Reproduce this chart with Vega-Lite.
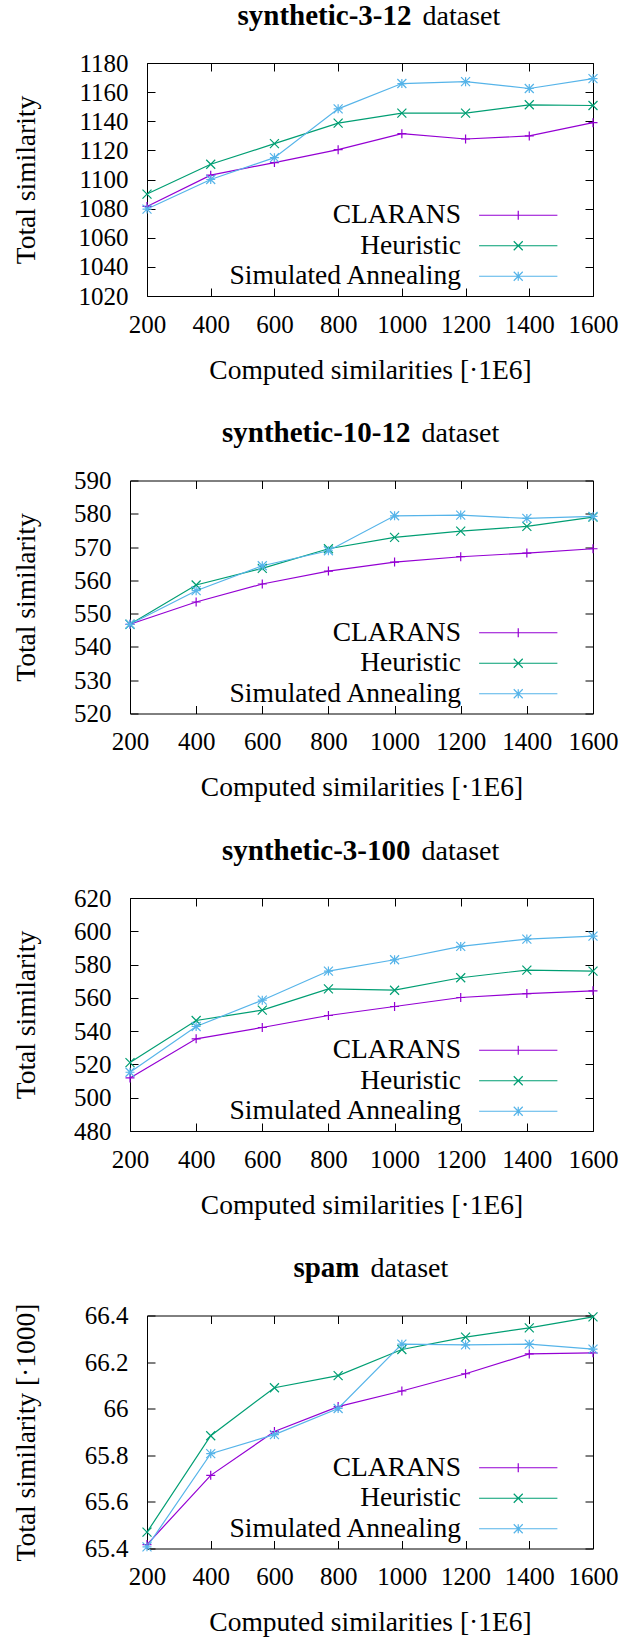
{
  "$schema": "https://vega.github.io/schema/vega-lite/v6.json",
  "padding": {"top": 0, "left": 0, "right": 0, "bottom": 0},
  "autosize": {"type": "pad"},
  "config": {
    "font": "Liberation Serif",
    "view": {"stroke": "black", "strokeWidth": 1},
    "axis": {
      "labelFont": "Liberation Serif", "titleFont": "Liberation Serif",
      "labelColor": "black", "titleColor": "black", "tickColor": "black",
      "labelFontSize": 25, "titleFontSize": 27.5, "titleFontWeight": "normal",
      "grid": false, "domain": false, "labelFlush": false, "labelOverlap": false, "tickWidth": 1
    },
    "legend": {"labelFont": "Liberation Serif", "labelColor": "black", "labelFontSize": 27.5}
  },
  "resolve": {"scale": {"color": "independent"}, "legend": {"color": "independent"}},
  "datasets": {
    "p1": [
      {"x": 200, "y": 1081.5, "series": "CLARANS"}, {"x": 400, "y": 1103, "series": "CLARANS"}, {"x": 600, "y": 1111.6, "series": "CLARANS"}, {"x": 800, "y": 1120.5, "series": "CLARANS"}, {"x": 1000, "y": 1131.5, "series": "CLARANS"}, {"x": 1200, "y": 1127.8, "series": "CLARANS"}, {"x": 1400, "y": 1129.9, "series": "CLARANS"}, {"x": 1600, "y": 1139, "series": "CLARANS"},
      {"x": 200, "y": 1090, "series": "Heuristic"}, {"x": 400, "y": 1110.5, "series": "Heuristic"}, {"x": 600, "y": 1124.6, "series": "Heuristic"}, {"x": 800, "y": 1138.7, "series": "Heuristic"}, {"x": 1000, "y": 1145.6, "series": "Heuristic"}, {"x": 1200, "y": 1145.6, "series": "Heuristic"}, {"x": 1400, "y": 1151.3, "series": "Heuristic"}, {"x": 1600, "y": 1150.8, "series": "Heuristic"},
      {"x": 200, "y": 1079.7, "series": "Simulated Annealing"}, {"x": 400, "y": 1100, "series": "Simulated Annealing"}, {"x": 600, "y": 1115, "series": "Simulated Annealing"}, {"x": 800, "y": 1148.5, "series": "Simulated Annealing"}, {"x": 1000, "y": 1165.9, "series": "Simulated Annealing"}, {"x": 1200, "y": 1167.2, "series": "Simulated Annealing"}, {"x": 1400, "y": 1162.5, "series": "Simulated Annealing"}, {"x": 1600, "y": 1169.3, "series": "Simulated Annealing"}
    ],
    "p2": [
      {"x": 200, "y": 546.8, "series": "CLARANS"}, {"x": 400, "y": 553.5, "series": "CLARANS"}, {"x": 600, "y": 558.9, "series": "CLARANS"}, {"x": 800, "y": 562.8, "series": "CLARANS"}, {"x": 1000, "y": 565.5, "series": "CLARANS"}, {"x": 1200, "y": 567.1, "series": "CLARANS"}, {"x": 1400, "y": 568.2, "series": "CLARANS"}, {"x": 1600, "y": 569.5, "series": "CLARANS"},
      {"x": 200, "y": 546.8, "series": "Heuristic"}, {"x": 400, "y": 558.6, "series": "Heuristic"}, {"x": 600, "y": 563.6, "series": "Heuristic"}, {"x": 800, "y": 569.5, "series": "Heuristic"}, {"x": 1000, "y": 572.9, "series": "Heuristic"}, {"x": 1200, "y": 574.8, "series": "Heuristic"}, {"x": 1400, "y": 576.2, "series": "Heuristic"}, {"x": 1600, "y": 579, "series": "Heuristic"},
      {"x": 200, "y": 546.8, "series": "Simulated Annealing"}, {"x": 400, "y": 556.9, "series": "Simulated Annealing"}, {"x": 600, "y": 564.4, "series": "Simulated Annealing"}, {"x": 800, "y": 568.9, "series": "Simulated Annealing"}, {"x": 1000, "y": 579.4, "series": "Simulated Annealing"}, {"x": 1200, "y": 579.6, "series": "Simulated Annealing"}, {"x": 1400, "y": 578.6, "series": "Simulated Annealing"}, {"x": 1600, "y": 579.2, "series": "Simulated Annealing"}
    ],
    "p3": [
      {"x": 200, "y": 511.9, "series": "CLARANS"}, {"x": 400, "y": 535.4, "series": "CLARANS"}, {"x": 600, "y": 542.2, "series": "CLARANS"}, {"x": 800, "y": 549.4, "series": "CLARANS"}, {"x": 1000, "y": 554.8, "series": "CLARANS"}, {"x": 1200, "y": 560.2, "series": "CLARANS"}, {"x": 1400, "y": 562.6, "series": "CLARANS"}, {"x": 1600, "y": 564.2, "series": "CLARANS"},
      {"x": 200, "y": 521.1, "series": "Heuristic"}, {"x": 400, "y": 546.4, "series": "Heuristic"}, {"x": 600, "y": 552.6, "series": "Heuristic"}, {"x": 800, "y": 565.4, "series": "Heuristic"}, {"x": 1000, "y": 564.6, "series": "Heuristic"}, {"x": 1200, "y": 572.1, "series": "Heuristic"}, {"x": 1400, "y": 576.7, "series": "Heuristic"}, {"x": 1600, "y": 576.1, "series": "Heuristic"},
      {"x": 200, "y": 515.3, "series": "Simulated Annealing"}, {"x": 400, "y": 542.8, "series": "Simulated Annealing"}, {"x": 600, "y": 558.6, "series": "Simulated Annealing"}, {"x": 800, "y": 576.1, "series": "Simulated Annealing"}, {"x": 1000, "y": 582.9, "series": "Simulated Annealing"}, {"x": 1200, "y": 590.9, "series": "Simulated Annealing"}, {"x": 1400, "y": 595.3, "series": "Simulated Annealing"}, {"x": 1600, "y": 597.1, "series": "Simulated Annealing"}
    ],
    "p4": [
      {"x": 200, "y": 65.417, "series": "CLARANS"}, {"x": 400, "y": 65.714, "series": "CLARANS"}, {"x": 600, "y": 65.902, "series": "CLARANS"}, {"x": 800, "y": 66.009, "series": "CLARANS"}, {"x": 1000, "y": 66.076, "series": "CLARANS"}, {"x": 1200, "y": 66.15, "series": "CLARANS"}, {"x": 1400, "y": 66.235, "series": "CLARANS"}, {"x": 1600, "y": 66.24, "series": "CLARANS"},
      {"x": 200, "y": 65.47, "series": "Heuristic"}, {"x": 400, "y": 65.884, "series": "Heuristic"}, {"x": 600, "y": 66.09, "series": "Heuristic"}, {"x": 800, "y": 66.142, "series": "Heuristic"}, {"x": 1000, "y": 66.254, "series": "Heuristic"}, {"x": 1200, "y": 66.307, "series": "Heuristic"}, {"x": 1400, "y": 66.347, "series": "Heuristic"}, {"x": 1600, "y": 66.394, "series": "Heuristic"},
      {"x": 200, "y": 65.407, "series": "Simulated Annealing"}, {"x": 400, "y": 65.807, "series": "Simulated Annealing"}, {"x": 600, "y": 65.889, "series": "Simulated Annealing"}, {"x": 800, "y": 66.001, "series": "Simulated Annealing"}, {"x": 1000, "y": 66.277, "series": "Simulated Annealing"}, {"x": 1200, "y": 66.274, "series": "Simulated Annealing"}, {"x": 1400, "y": 66.277, "series": "Simulated Annealing"}, {"x": 1600, "y": 66.256, "series": "Simulated Annealing"}
    ]
  },
  "spacing": 33.5,
  "vconcat": [
    {
      "spacing": 0, "bounds": "flush",
      "resolve": {"scale": {"color": "independent"}, "legend": {"color": "independent"}},
      "hconcat": [
        {"width": 147, "height": 233, "view": {"stroke": null}, "data": {"values": [{}]}, "mark": {"type": "point", "opacity": 0}, "encoding": {}},
        {
          "width": 446, "height": 233,
          "data": {"name": "p1"},
          "layer": [
            {
              "mark": {"type": "line", "strokeWidth": 1.2},
              "encoding": {
                "x": {"field": "x", "type": "quantitative", "scale": {"domain": [200, 1600], "nice": false, "zero": false},
                  "axis": {"orient": "bottom", "values": [200, 400, 600, 800, 1000, 1200, 1400, 1600], "format": "d", "tickSize": -8, "labelPadding": 44, "labelBaseline": "alphabetic", "title": "Computed similarities [·1E6]", "titleY": 82, "titleBaseline": "alphabetic"}},
                "y": {"field": "y", "type": "quantitative", "scale": {"domain": [1020, 1180], "nice": false, "zero": false},
                  "axis": {"orient": "left", "values": [1020, 1040, 1060, 1080, 1100, 1120, 1140, 1160, 1180], "format": "d", "tickSize": -8, "labelPadding": 27, "labelAlign": "right", "labelBaseline": "middle", "title": "Total similarity", "titleX": -113, "titleAngle": 270, "titleBaseline": "alphabetic", "titleAlign": "center"}},
                "color": {"field": "series", "type": "nominal",
                  "scale": {"domain": ["CLARANS", "Heuristic", "Simulated Annealing"], "range": ["#9400d3", "#009e73", "#56b4e9"]},
                  "legend": {"orient": "none", "direction": "vertical", "legendX": 357.5, "legendY": 138.5, "title": null, "padding": 0, "symbolSize": 81, "symbolStrokeWidth": 1.2, "labelOffset": -71, "labelAlign": "right", "labelLimit": 400, "rowPadding": 1.5,
                    "encode": {"symbols": {"update": {"shape": {"signal": "datum.value === 'CLARANS' ? 'M-8.7,0H8.7M0,-1V1' : datum.value === 'Heuristic' ? 'M-8.7,0H8.7M-1,-1L1,1M-1,1L1,-1' : 'M-8.7,0H8.7M0,-1V1M-1,-1L1,1M-1,1L1,-1'"}}}}}}
              }
            },
            {
              "transform": [{"filter": "datum.series === 'CLARANS'"}],
              "mark": {"type": "point", "filled": false, "size": 81, "strokeWidth": 1.2, "opacity": 1, "color": "#9400d3", "shape": "M-1,0H1M0,-1V1"},
              "encoding": {
                "x": {"field": "x", "type": "quantitative", "axis": {"orient": "top", "values": [200, 400, 600, 800, 1000, 1200, 1400, 1600], "labels": false, "tickSize": -8, "title": "dataset", "titleX": 275, "titleY": -39, "titleAngle": 0, "titleAlign": "left", "titleBaseline": "alphabetic", "titleFontSize": 28}},
                "y": {"field": "y", "type": "quantitative", "axis": {"orient": "right", "values": [1020, 1040, 1060, 1080, 1100, 1120, 1140, 1160, 1180], "labels": false, "tickSize": -8, "title": "synthetic-3-12", "titleX": -182, "titleY": -39, "titleAngle": 0, "titleAlign": "right", "titleBaseline": "alphabetic", "titleFontWeight": "bold", "titleFontSize": 29}}
              }
            },
            {
              "transform": [{"filter": "datum.series === 'Heuristic'"}],
              "mark": {"type": "point", "filled": false, "size": 81, "strokeWidth": 1.2, "opacity": 1, "color": "#009e73", "shape": "M-1,-1L1,1M-1,1L1,-1"},
              "encoding": {"x": {"field": "x", "type": "quantitative", "axis": null}, "y": {"field": "y", "type": "quantitative", "axis": null}}
            },
            {
              "transform": [{"filter": "datum.series === 'Simulated Annealing'"}],
              "mark": {"type": "point", "filled": false, "size": 81, "strokeWidth": 1.2, "opacity": 1, "color": "#56b4e9", "shape": "M-1,0H1M0,-1V1M-1,-1L1,1M-1,1L1,-1"},
              "encoding": {"x": {"field": "x", "type": "quantitative", "axis": null}, "y": {"field": "y", "type": "quantitative", "axis": null}}
            }
          ],
          "resolve": {"axis": {"x": "independent", "y": "independent"}}
        }
      ]
    },
    {
      "spacing": 0, "bounds": "flush",
      "resolve": {"scale": {"color": "independent"}, "legend": {"color": "independent"}},
      "hconcat": [
        {"width": 130, "height": 233, "view": {"stroke": null}, "data": {"values": [{}]}, "mark": {"type": "point", "opacity": 0}, "encoding": {}},
        {
          "width": 463, "height": 233,
          "data": {"name": "p2"},
          "layer": [
            {
              "mark": {"type": "line", "strokeWidth": 1.2},
              "encoding": {
                "x": {"field": "x", "type": "quantitative", "scale": {"domain": [200, 1600], "nice": false, "zero": false},
                  "axis": {"orient": "bottom", "values": [200, 400, 600, 800, 1000, 1200, 1400, 1600], "format": "d", "tickSize": -8, "labelPadding": 44, "labelBaseline": "alphabetic", "title": "Computed similarities [·1E6]", "titleY": 82, "titleBaseline": "alphabetic"}},
                "y": {"field": "y", "type": "quantitative", "scale": {"domain": [520, 590], "nice": false, "zero": false},
                  "axis": {"orient": "left", "values": [520, 530, 540, 550, 560, 570, 580, 590], "format": "d", "tickSize": -8, "labelPadding": 27, "labelAlign": "right", "labelBaseline": "middle", "title": "Total similarity", "titleX": -96, "titleAngle": 270, "titleBaseline": "alphabetic", "titleAlign": "center"}},
                "color": {"field": "series", "type": "nominal",
                  "scale": {"domain": ["CLARANS", "Heuristic", "Simulated Annealing"], "range": ["#9400d3", "#009e73", "#56b4e9"]},
                  "legend": {"orient": "none", "direction": "vertical", "legendX": 374.5, "legendY": 138.5, "title": null, "padding": 0, "symbolSize": 81, "symbolStrokeWidth": 1.2, "labelOffset": -71, "labelAlign": "right", "labelLimit": 400, "rowPadding": 1.5,
                    "encode": {"symbols": {"update": {"shape": {"signal": "datum.value === 'CLARANS' ? 'M-8.7,0H8.7M0,-1V1' : datum.value === 'Heuristic' ? 'M-8.7,0H8.7M-1,-1L1,1M-1,1L1,-1' : 'M-8.7,0H8.7M0,-1V1M-1,-1L1,1M-1,1L1,-1'"}}}}}}
              }
            },
            {
              "transform": [{"filter": "datum.series === 'CLARANS'"}],
              "mark": {"type": "point", "filled": false, "size": 81, "strokeWidth": 1.2, "opacity": 1, "color": "#9400d3", "shape": "M-1,0H1M0,-1V1"},
              "encoding": {
                "x": {"field": "x", "type": "quantitative", "axis": {"orient": "top", "values": [200, 400, 600, 800, 1000, 1200, 1400, 1600], "labels": false, "tickSize": -8, "title": "dataset", "titleX": 291, "titleY": -39, "titleAngle": 0, "titleAlign": "left", "titleBaseline": "alphabetic", "titleFontSize": 28}},
                "y": {"field": "y", "type": "quantitative", "axis": {"orient": "right", "values": [520, 530, 540, 550, 560, 570, 580, 590], "labels": false, "tickSize": -8, "title": "synthetic-10-12", "titleX": -183, "titleY": -39, "titleAngle": 0, "titleAlign": "right", "titleBaseline": "alphabetic", "titleFontWeight": "bold", "titleFontSize": 29}}
              }
            },
            {
              "transform": [{"filter": "datum.series === 'Heuristic'"}],
              "mark": {"type": "point", "filled": false, "size": 81, "strokeWidth": 1.2, "opacity": 1, "color": "#009e73", "shape": "M-1,-1L1,1M-1,1L1,-1"},
              "encoding": {"x": {"field": "x", "type": "quantitative", "axis": null}, "y": {"field": "y", "type": "quantitative", "axis": null}}
            },
            {
              "transform": [{"filter": "datum.series === 'Simulated Annealing'"}],
              "mark": {"type": "point", "filled": false, "size": 81, "strokeWidth": 1.2, "opacity": 1, "color": "#56b4e9", "shape": "M-1,0H1M0,-1V1M-1,-1L1,1M-1,1L1,-1"},
              "encoding": {"x": {"field": "x", "type": "quantitative", "axis": null}, "y": {"field": "y", "type": "quantitative", "axis": null}}
            }
          ],
          "resolve": {"axis": {"x": "independent", "y": "independent"}}
        }
      ]
    },
    {
      "spacing": 0, "bounds": "flush",
      "resolve": {"scale": {"color": "independent"}, "legend": {"color": "independent"}},
      "hconcat": [
        {"width": 130, "height": 233, "view": {"stroke": null}, "data": {"values": [{}]}, "mark": {"type": "point", "opacity": 0}, "encoding": {}},
        {
          "width": 463, "height": 233,
          "data": {"name": "p3"},
          "layer": [
            {
              "mark": {"type": "line", "strokeWidth": 1.2},
              "encoding": {
                "x": {"field": "x", "type": "quantitative", "scale": {"domain": [200, 1600], "nice": false, "zero": false},
                  "axis": {"orient": "bottom", "values": [200, 400, 600, 800, 1000, 1200, 1400, 1600], "format": "d", "tickSize": -8, "labelPadding": 44, "labelBaseline": "alphabetic", "title": "Computed similarities [·1E6]", "titleY": 82, "titleBaseline": "alphabetic"}},
                "y": {"field": "y", "type": "quantitative", "scale": {"domain": [480, 620], "nice": false, "zero": false},
                  "axis": {"orient": "left", "values": [480, 500, 520, 540, 560, 580, 600, 620], "format": "d", "tickSize": -8, "labelPadding": 27, "labelAlign": "right", "labelBaseline": "middle", "title": "Total similarity", "titleX": -96, "titleAngle": 270, "titleBaseline": "alphabetic", "titleAlign": "center"}},
                "color": {"field": "series", "type": "nominal",
                  "scale": {"domain": ["CLARANS", "Heuristic", "Simulated Annealing"], "range": ["#9400d3", "#009e73", "#56b4e9"]},
                  "legend": {"orient": "none", "direction": "vertical", "legendX": 374.5, "legendY": 138.5, "title": null, "padding": 0, "symbolSize": 81, "symbolStrokeWidth": 1.2, "labelOffset": -71, "labelAlign": "right", "labelLimit": 400, "rowPadding": 1.5,
                    "encode": {"symbols": {"update": {"shape": {"signal": "datum.value === 'CLARANS' ? 'M-8.7,0H8.7M0,-1V1' : datum.value === 'Heuristic' ? 'M-8.7,0H8.7M-1,-1L1,1M-1,1L1,-1' : 'M-8.7,0H8.7M0,-1V1M-1,-1L1,1M-1,1L1,-1'"}}}}}}
              }
            },
            {
              "transform": [{"filter": "datum.series === 'CLARANS'"}],
              "mark": {"type": "point", "filled": false, "size": 81, "strokeWidth": 1.2, "opacity": 1, "color": "#9400d3", "shape": "M-1,0H1M0,-1V1"},
              "encoding": {
                "x": {"field": "x", "type": "quantitative", "axis": {"orient": "top", "values": [200, 400, 600, 800, 1000, 1200, 1400, 1600], "labels": false, "tickSize": -8, "title": "dataset", "titleX": 291, "titleY": -39, "titleAngle": 0, "titleAlign": "left", "titleBaseline": "alphabetic", "titleFontSize": 28}},
                "y": {"field": "y", "type": "quantitative", "axis": {"orient": "right", "values": [480, 500, 520, 540, 560, 580, 600, 620], "labels": false, "tickSize": -8, "title": "synthetic-3-100", "titleX": -183, "titleY": -39, "titleAngle": 0, "titleAlign": "right", "titleBaseline": "alphabetic", "titleFontWeight": "bold", "titleFontSize": 29}}
              }
            },
            {
              "transform": [{"filter": "datum.series === 'Heuristic'"}],
              "mark": {"type": "point", "filled": false, "size": 81, "strokeWidth": 1.2, "opacity": 1, "color": "#009e73", "shape": "M-1,-1L1,1M-1,1L1,-1"},
              "encoding": {"x": {"field": "x", "type": "quantitative", "axis": null}, "y": {"field": "y", "type": "quantitative", "axis": null}}
            },
            {
              "transform": [{"filter": "datum.series === 'Simulated Annealing'"}],
              "mark": {"type": "point", "filled": false, "size": 81, "strokeWidth": 1.2, "opacity": 1, "color": "#56b4e9", "shape": "M-1,0H1M0,-1V1M-1,-1L1,1M-1,1L1,-1"},
              "encoding": {"x": {"field": "x", "type": "quantitative", "axis": null}, "y": {"field": "y", "type": "quantitative", "axis": null}}
            }
          ],
          "resolve": {"axis": {"x": "independent", "y": "independent"}}
        }
      ]
    },
    {
      "spacing": 0, "bounds": "flush",
      "resolve": {"scale": {"color": "independent"}, "legend": {"color": "independent"}},
      "hconcat": [
        {"width": 147, "height": 233, "view": {"stroke": null}, "data": {"values": [{}]}, "mark": {"type": "point", "opacity": 0}, "encoding": {}},
        {
          "width": 446, "height": 233,
          "data": {"name": "p4"},
          "layer": [
            {
              "mark": {"type": "line", "strokeWidth": 1.2},
              "encoding": {
                "x": {"field": "x", "type": "quantitative", "scale": {"domain": [200, 1600], "nice": false, "zero": false},
                  "axis": {"orient": "bottom", "values": [200, 400, 600, 800, 1000, 1200, 1400, 1600], "format": "d", "tickSize": -8, "labelPadding": 44, "labelBaseline": "alphabetic", "title": "Computed similarities [·1E6]", "titleY": 82, "titleBaseline": "alphabetic"}},
                "y": {"field": "y", "type": "quantitative", "scale": {"domain": [65.4, 66.4], "nice": false, "zero": false},
                  "axis": {"orient": "left", "values": [65.4, 65.6, 65.8, 66, 66.2, 66.4], "format": "~g", "tickSize": -8, "labelPadding": 27, "labelAlign": "right", "labelBaseline": "middle", "title": "Total similarity [·1000]", "titleX": -113, "titleAngle": 270, "titleBaseline": "alphabetic", "titleAlign": "center"}},
                "color": {"field": "series", "type": "nominal",
                  "scale": {"domain": ["CLARANS", "Heuristic", "Simulated Annealing"], "range": ["#9400d3", "#009e73", "#56b4e9"]},
                  "legend": {"orient": "none", "direction": "vertical", "legendX": 357.5, "legendY": 138.5, "title": null, "padding": 0, "symbolSize": 81, "symbolStrokeWidth": 1.2, "labelOffset": -71, "labelAlign": "right", "labelLimit": 400, "rowPadding": 1.5,
                    "encode": {"symbols": {"update": {"shape": {"signal": "datum.value === 'CLARANS' ? 'M-8.7,0H8.7M0,-1V1' : datum.value === 'Heuristic' ? 'M-8.7,0H8.7M-1,-1L1,1M-1,1L1,-1' : 'M-8.7,0H8.7M0,-1V1M-1,-1L1,1M-1,1L1,-1'"}}}}}}
              }
            },
            {
              "transform": [{"filter": "datum.series === 'CLARANS'"}],
              "mark": {"type": "point", "filled": false, "size": 81, "strokeWidth": 1.2, "opacity": 1, "color": "#9400d3", "shape": "M-1,0H1M0,-1V1"},
              "encoding": {
                "x": {"field": "x", "type": "quantitative", "axis": {"orient": "top", "values": [200, 400, 600, 800, 1000, 1200, 1400, 1600], "labels": false, "tickSize": -8, "title": "dataset", "titleX": 223, "titleY": -39, "titleAngle": 0, "titleAlign": "left", "titleBaseline": "alphabetic", "titleFontSize": 28}},
                "y": {"field": "y", "type": "quantitative", "axis": {"orient": "right", "values": [65.4, 65.6, 65.8, 66, 66.2, 66.4], "labels": false, "tickSize": -8, "title": "spam", "titleX": -234, "titleY": -39, "titleAngle": 0, "titleAlign": "right", "titleBaseline": "alphabetic", "titleFontWeight": "bold", "titleFontSize": 29}}
              }
            },
            {
              "transform": [{"filter": "datum.series === 'Heuristic'"}],
              "mark": {"type": "point", "filled": false, "size": 81, "strokeWidth": 1.2, "opacity": 1, "color": "#009e73", "shape": "M-1,-1L1,1M-1,1L1,-1"},
              "encoding": {"x": {"field": "x", "type": "quantitative", "axis": null}, "y": {"field": "y", "type": "quantitative", "axis": null}}
            },
            {
              "transform": [{"filter": "datum.series === 'Simulated Annealing'"}],
              "mark": {"type": "point", "filled": false, "size": 81, "strokeWidth": 1.2, "opacity": 1, "color": "#56b4e9", "shape": "M-1,0H1M0,-1V1M-1,-1L1,1M-1,1L1,-1"},
              "encoding": {"x": {"field": "x", "type": "quantitative", "axis": null}, "y": {"field": "y", "type": "quantitative", "axis": null}}
            }
          ],
          "resolve": {"axis": {"x": "independent", "y": "independent"}}
        }
      ]
    }
  ]
}
